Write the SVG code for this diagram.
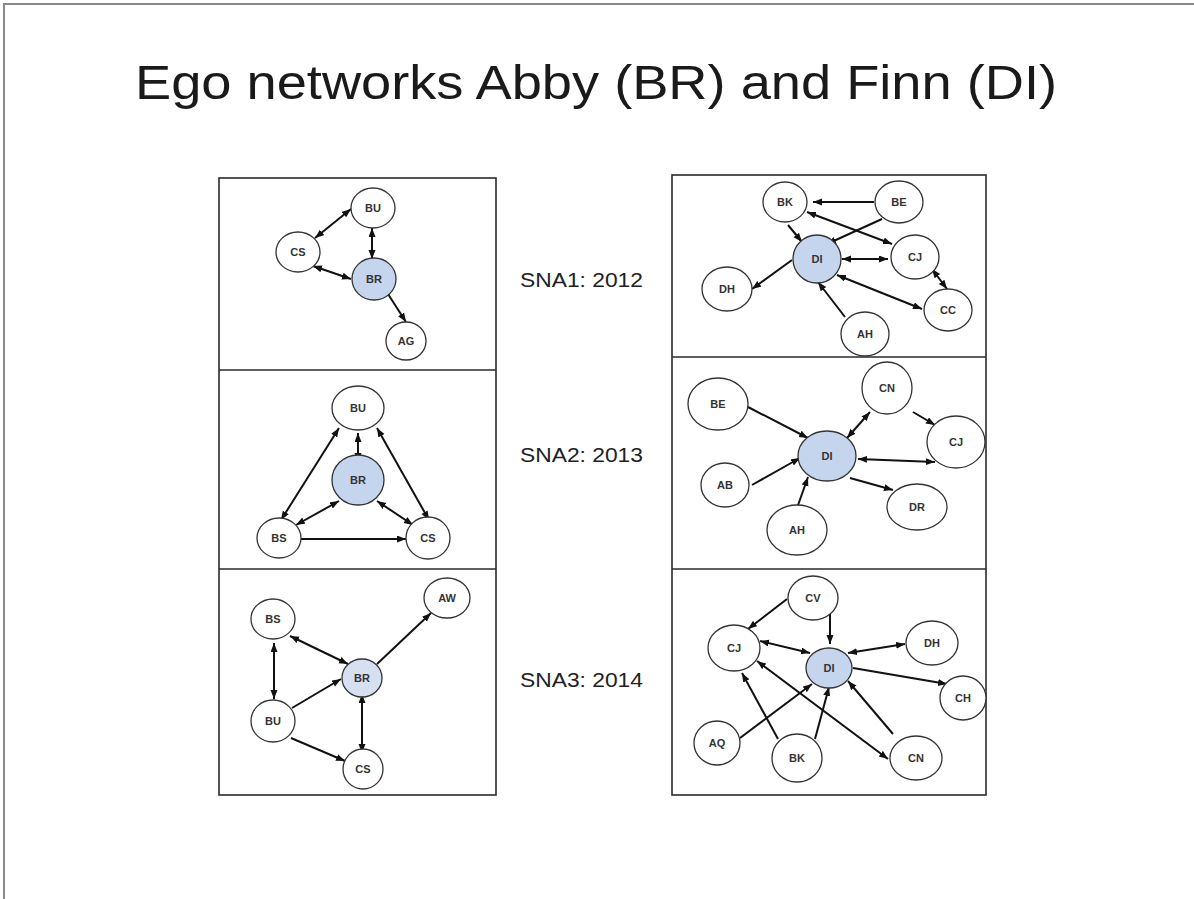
<svg xmlns="http://www.w3.org/2000/svg" width="1194" height="899" viewBox="0 0 1194 899">
<style>
.frame{fill:none;stroke:#2a2a2a;stroke-width:1.6}
.div{stroke:#2a2a2a;stroke-width:1.3}
.n{fill:#fff;stroke:#333;stroke-width:1.3}
.ego{fill:#c5d5ee;stroke:#333;stroke-width:1.3}
.ego2{fill:#d6e0f1;stroke:#333;stroke-width:1.3}
.l{font-family:"Liberation Sans",Arial,sans-serif;font-size:11px;font-weight:bold;fill:#333;text-anchor:middle;dominant-baseline:central}
.e{stroke:#111;stroke-width:2;fill:none}
.a{marker-end:url(#ah)}
.b{marker-start:url(#ah);marker-end:url(#ah)}
.side{font-family:"Liberation Sans",Arial,sans-serif;font-size:20px;fill:#222}
</style>
<defs>
<marker id="ah" markerUnits="userSpaceOnUse" markerWidth="10" markerHeight="8" refX="9" refY="3.5" orient="auto-start-reverse">
<path d="M0,0 L9,3.5 L0,7 z" fill="#111"/>
</marker>
</defs>
<rect x="0" y="0" width="1194" height="899" fill="#fff"/>
<rect x="4" y="4" width="1200" height="900" fill="none" stroke="#8a8a8a" stroke-width="2"/>
<text x="596" y="99" font-family="Liberation Sans, Arial, sans-serif" font-size="48" fill="#1a1a1a" text-anchor="middle" textLength="922" lengthAdjust="spacingAndGlyphs">Ego networks Abby (BR) and Finn (DI)</text>
<g id="labels">
<text class="side" x="520" y="287" textLength="123" lengthAdjust="spacingAndGlyphs">SNA1: 2012</text>
<text class="side" x="520" y="462" textLength="123" lengthAdjust="spacingAndGlyphs">SNA2: 2013</text>
<text class="side" x="520" y="687" textLength="123" lengthAdjust="spacingAndGlyphs">SNA3: 2014</text>
</g>
<g id="panels">
<rect class="frame" x="219" y="178" width="277" height="617"/>
<line class="div" x1="219" y1="370" x2="496" y2="370"/>
<line class="div" x1="219" y1="569" x2="496" y2="569"/>
<rect class="frame" x="672" y="175" width="314" height="620"/>
<line class="div" x1="672" y1="357" x2="986" y2="357"/>
<line class="div" x1="672" y1="569" x2="986" y2="569"/>
</g>
<g id="connectors">
<line class="e b" x1="315" y1="238" x2="351" y2="209"/>
<line class="e b" x1="372" y1="228" x2="372" y2="259"/>
<line class="e b" x1="313" y1="266" x2="351" y2="279"/>
<line class="e a" x1="388" y1="294" x2="406" y2="322"/>
<line class="e b" x1="358" y1="433" x2="358" y2="462"/>
<line class="e b" x1="339" y1="428" x2="281" y2="520"/>
<line class="e b" x1="377" y1="428" x2="429" y2="520"/>
<line class="e b" x1="339" y1="501" x2="296" y2="525"/>
<line class="e b" x1="377" y1="501" x2="413" y2="525"/>
<line class="e a" x1="301" y1="539" x2="406" y2="539"/>
<line class="e b" x1="290" y1="636" x2="348" y2="664"/>
<line class="e b" x1="274" y1="643" x2="274" y2="699"/>
<line class="e a" x1="292" y1="708" x2="341" y2="679"/>
<line class="e a" x1="377" y1="664" x2="431" y2="613"/>
<line class="e b" x1="362" y1="694" x2="362" y2="753"/>
<line class="e a" x1="291" y1="738" x2="345" y2="761"/>
<line class="e a" x1="874" y1="202" x2="813" y2="202"/>
<line class="e a" x1="882" y1="219" x2="827" y2="244"/>
<line class="e a" x1="788" y1="225" x2="802" y2="242"/>
<line class="e b" x1="807" y1="212" x2="892" y2="244"/>
<line class="e b" x1="842" y1="259" x2="888" y2="259"/>
<line class="e a" x1="792" y1="260" x2="752" y2="289"/>
<line class="e b" x1="932" y1="269" x2="947" y2="289"/>
<line class="e b" x1="837" y1="275" x2="922" y2="309"/>
<line class="e a" x1="845" y1="317" x2="818" y2="282"/>
<line class="e a" x1="748" y1="407" x2="808" y2="438"/>
<line class="e a" x1="752" y1="485" x2="800" y2="458"/>
<line class="e a" x1="797" y1="508" x2="808" y2="477"/>
<line class="e b" x1="847" y1="438" x2="870" y2="412"/>
<line class="e a" x1="913" y1="412" x2="935" y2="425"/>
<line class="e b" x1="858" y1="459" x2="935" y2="462"/>
<line class="e a" x1="850" y1="478" x2="893" y2="490"/>
<line class="e a" x1="787" y1="599" x2="748" y2="629"/>
<line class="e a" x1="830" y1="613" x2="830" y2="644"/>
<line class="e b" x1="760" y1="641" x2="810" y2="653"/>
<line class="e b" x1="848" y1="653" x2="905" y2="644"/>
<line class="e a" x1="853" y1="668" x2="947" y2="684"/>
<line class="e a" x1="740" y1="738" x2="812" y2="684"/>
<line class="e a" x1="778" y1="739" x2="742" y2="673"/>
<line class="e a" x1="815" y1="739" x2="829" y2="687"/>
<line class="e b" x1="757" y1="661" x2="888" y2="759"/>
<line class="e a" x1="893" y1="734" x2="848" y2="681"/>
</g>
<g id="lt-BU"><ellipse class="n" cx="373" cy="208" rx="22" ry="20"/><text class="l" x="373" y="208">BU</text></g>
<g id="lt-CS"><ellipse class="n" cx="298" cy="252" rx="22" ry="20"/><text class="l" x="298" y="252">CS</text></g>
<g id="lt-BR"><ellipse class="ego" cx="374" cy="279" rx="22" ry="21"/><text class="l" x="374" y="279">BR</text></g>
<g id="lt-AG"><ellipse class="n" cx="406" cy="341" rx="20" ry="19"/><text class="l" x="406" y="341">AG</text></g>
<g id="lm-BU"><ellipse class="n" cx="358" cy="408" rx="26" ry="22"/><text class="l" x="358" y="408">BU</text></g>
<g id="lm-BR"><ellipse class="ego" cx="358" cy="480" rx="26" ry="25"/><text class="l" x="358" y="480">BR</text></g>
<g id="lm-BS"><ellipse class="n" cx="279" cy="538" rx="22" ry="20"/><text class="l" x="279" y="538">BS</text></g>
<g id="lm-CS"><ellipse class="n" cx="428" cy="538" rx="22" ry="21"/><text class="l" x="428" y="538">CS</text></g>
<g id="lb-BS"><ellipse class="n" cx="273" cy="619" rx="22" ry="20"/><text class="l" x="273" y="619">BS</text></g>
<g id="lb-AW"><ellipse class="n" cx="447" cy="598" rx="23" ry="20"/><text class="l" x="447" y="598">AW</text></g>
<g id="lb-BR"><ellipse class="ego2" cx="362" cy="678" rx="20" ry="19"/><text class="l" x="362" y="678">BR</text></g>
<g id="lb-BU"><ellipse class="n" cx="273" cy="721" rx="22" ry="21"/><text class="l" x="273" y="721">BU</text></g>
<g id="lb-CS"><ellipse class="n" cx="363" cy="769" rx="20" ry="20"/><text class="l" x="363" y="769">CS</text></g>
<g id="rt-BK"><ellipse class="n" cx="785" cy="202" rx="22" ry="20"/><text class="l" x="785" y="202">BK</text></g>
<g id="rt-BE"><ellipse class="n" cx="899" cy="202" rx="24" ry="21"/><text class="l" x="899" y="202">BE</text></g>
<g id="rt-DI"><ellipse class="ego" cx="817" cy="259" rx="24" ry="24"/><text class="l" x="817" y="259">DI</text></g>
<g id="rt-CJ"><ellipse class="n" cx="915" cy="257" rx="24" ry="22"/><text class="l" x="915" y="257">CJ</text></g>
<g id="rt-DH"><ellipse class="n" cx="727" cy="289" rx="25" ry="22"/><text class="l" x="727" y="289">DH</text></g>
<g id="rt-CC"><ellipse class="n" cx="948" cy="310" rx="24" ry="21"/><text class="l" x="948" y="310">CC</text></g>
<g id="rt-AH"><ellipse class="n" cx="865" cy="334" rx="24" ry="22"/><text class="l" x="865" y="334">AH</text></g>
<g id="rm-BE"><ellipse class="n" cx="718" cy="404" rx="30" ry="26"/><text class="l" x="718" y="404">BE</text></g>
<g id="rm-CN"><ellipse class="n" cx="887" cy="388" rx="25" ry="26"/><text class="l" x="887" y="388">CN</text></g>
<g id="rm-CJ"><ellipse class="n" cx="956" cy="442" rx="29" ry="26"/><text class="l" x="956" y="442">CJ</text></g>
<g id="rm-DI"><ellipse class="ego" cx="827" cy="456" rx="29" ry="25"/><text class="l" x="827" y="456">DI</text></g>
<g id="rm-AB"><ellipse class="n" cx="725" cy="485" rx="24" ry="22"/><text class="l" x="725" y="485">AB</text></g>
<g id="rm-DR"><ellipse class="n" cx="917" cy="507" rx="30" ry="23"/><text class="l" x="917" y="507">DR</text></g>
<g id="rm-AH"><ellipse class="n" cx="797" cy="530" rx="30" ry="25"/><text class="l" x="797" y="530">AH</text></g>
<g id="rb-CV"><ellipse class="n" cx="813" cy="598" rx="25" ry="22"/><text class="l" x="813" y="598">CV</text></g>
<g id="rb-CJ"><ellipse class="n" cx="734" cy="648" rx="26" ry="23"/><text class="l" x="734" y="648">CJ</text></g>
<g id="rb-DH"><ellipse class="n" cx="932" cy="643" rx="26" ry="22"/><text class="l" x="932" y="643">DH</text></g>
<g id="rb-DI"><ellipse class="ego" cx="829" cy="668" rx="23" ry="20"/><text class="l" x="829" y="668">DI</text></g>
<g id="rb-CH"><ellipse class="n" cx="963" cy="698" rx="23" ry="22"/><text class="l" x="963" y="698">CH</text></g>
<g id="rb-AQ"><ellipse class="n" cx="717" cy="743" rx="23" ry="22"/><text class="l" x="717" y="743">AQ</text></g>
<g id="rb-BK"><ellipse class="n" cx="797" cy="758" rx="25" ry="24"/><text class="l" x="797" y="758">BK</text></g>
<g id="rb-CN"><ellipse class="n" cx="916" cy="758" rx="26" ry="22"/><text class="l" x="916" y="758">CN</text></g>
</svg>
